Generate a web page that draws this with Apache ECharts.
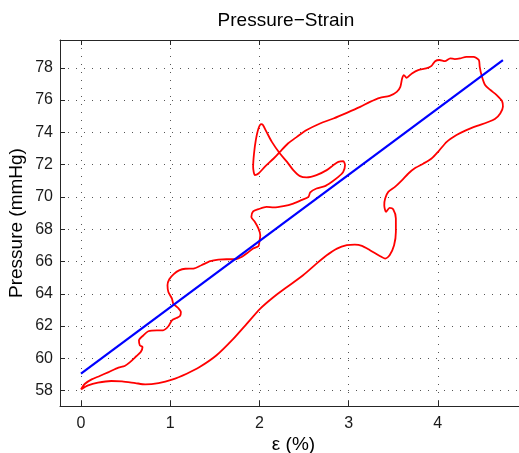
<!DOCTYPE html>
<html>
<head>
<meta charset="utf-8">
<script src="https://cdn.jsdelivr.net/npm/echarts@6/dist/echarts.min.js"></script>
<style>
html,body{margin:0;padding:0;background:#fff;}
#chart{width:519px;height:453px;}
</style>
</head>
<body>
<div id="chart"></div>
<script>
// ---- data ----
const titleText = 'Pressure\u2212Strain';
const xName = '\u03b5 (%)';
const yName = 'Pressure (mmHg)';
const xTicks = [0, 1, 2, 3, 4];
const yTicks = [58, 60, 62, 64, 66, 68, 70, 72, 74, 76, 78];

// measured loop (red), in drawing order
const loopStrain = [
  0.00,0.045,0.12,0.21,0.31,0.42,0.49,0.55,0.62,0.67,0.69,0.66,0.65,0.70,0.755,0.85,0.92,0.98,1.02,1.07,
  1.11,1.12,1.09,1.035,1.02,0.98,0.97,0.99,1.04,1.10,1.17,1.26,1.35,1.45,1.54,1.63,1.73,1.80,1.865,1.93,
  1.99,2.00,2.01,1.99,1.95,1.91,1.93,1.99,2.08,2.16,2.27,2.38,2.47,2.55,2.57,2.64,2.735,2.81,2.885,2.94,
  2.96,2.94,2.885,2.83,2.755,2.64,2.53,2.455,2.38,2.31,2.23,2.14,2.08,2.04,2.02,1.99,1.96,1.94,1.93,1.95,
  1.99,2.06,2.16,2.23,2.32,2.42,2.53,2.68,2.83,2.98,3.13,3.24,3.35,3.46,3.54,3.58,3.60,3.62,3.65,3.71,
  3.78,3.87,3.93,3.97,4.02,4.08,4.14,4.19,4.25,4.32,4.40,4.46,4.47,4.49,4.53,4.59,4.66,4.72,4.73,4.70,
  4.64,4.55,4.44,4.32,4.21,4.10,4.01,3.93,3.84,3.75,3.67,3.60,3.52,3.445,3.41,3.40,3.42,3.46,3.50,3.53,
  3.53,3.51,3.46,3.41,3.35,3.24,3.15,3.07,2.98,2.87,2.755,2.64,2.49,2.31,2.16,2.01,1.86,1.71,1.52,1.33,
  1.185,1.02,0.87,0.72,0.61,0.46,0.34,0.19,0.08,0.00
];
const loopPressure = [
  58.08,58.43,58.70,58.91,59.15,59.43,59.53,59.77,60.13,60.39,60.70,60.81,61.12,61.43,61.68,61.74,61.74,61.99,62.36,62.50,
  62.62,62.87,63.12,63.39,63.70,64.11,64.53,64.90,65.22,65.45,65.55,65.56,65.77,66.02,66.12,66.14,66.14,66.28,66.53,66.80,
  66.95,67.21,67.63,68.04,68.45,68.76,69.10,69.24,69.38,69.35,69.43,69.59,69.80,70.00,70.28,70.52,70.67,70.93,71.24,71.55,
  71.97,72.22,72.17,71.97,71.66,71.35,71.21,71.29,71.66,72.17,72.69,73.41,74.03,74.45,74.51,74.24,73.52,72.69,71.86,71.35,
  71.45,71.86,72.38,72.79,73.31,73.72,74.14,74.55,74.86,75.21,75.58,75.89,76.14,76.26,76.51,76.82,77.34,77.55,77.38,77.65,
  77.86,77.96,78.12,78.41,78.48,78.41,78.58,78.54,78.58,78.68,78.68,78.48,78.06,77.55,76.93,76.62,76.31,75.94,75.58,75.17,
  74.82,74.61,74.40,74.14,73.83,73.41,72.84,72.38,72.07,71.80,71.45,71.04,70.62,70.31,69.90,69.49,69.07,69.32,69.24,68.66,
  67.83,67.01,66.39,66.18,66.34,66.70,66.97,67.05,67.01,66.80,66.39,65.87,65.15,64.42,63.80,63.08,62.15,61.22,60.19,59.46,
  59.05,58.68,58.47,58.39,58.47,58.58,58.60,58.50,58.33,58.08
];

// fitted line (blue)
const fitStrain = [0.0, 4.73];
const fitPressure = [59.05, 78.48];

// ---- build ----
const loopData = loopStrain.map((x, i) => [x, loopPressure[i]]);
const fitData = fitStrain.map((x, i) => [x, fitPressure[i]]);

const FONT = 'Liberation Sans, Arial, Helvetica, sans-serif';
const AX = '#262626';
const gridDots = { show: true, lineStyle: { color: '#555', width: 1, type: [1, 7] } };

const chart = echarts.init(document.getElementById('chart'), null, { renderer: 'canvas' });
chart.setOption({
  animation: false,
  backgroundColor: '#fff',
  title: {
    text: titleText,
    left: 281,
    top: 6,
    textAlign: 'center',
    textStyle: { fontFamily: FONT, fontSize: 19, fontWeight: 'normal', color: '#000' }
  },
  grid: { left: 60, top: 40, width: 467, height: 366, containLabel: false, outerBoundsMode: 'none' },
  xAxis: [{
    type: 'value', position: 'bottom', min: -0.235, max: 5,
    name: xName, nameLocation: 'middle', nameGap: 29, nameMoveOverlap: false,
    nameTextStyle: { fontFamily: FONT, fontSize: 19, color: '#000' },
    axisLine: { show: true, onZero: false, lineStyle: { color: AX, width: 1 } },
    axisTick: { show: true, inside: true, length: 5, customValues: xTicks, lineStyle: { color: AX } },
    axisLabel: { customValues: xTicks, margin: 10, fontFamily: FONT, fontSize: 16, color: '#1a1a1a' },
    splitLine: gridDots
  }, {
    type: 'value', position: 'top', min: -0.235, max: 5,
    axisLine: { show: true, onZero: false, lineStyle: { color: AX, width: 1 } },
    axisTick: { show: true, inside: true, length: 5, customValues: xTicks, lineStyle: { color: AX } },
    axisLabel: { show: false },
    splitLine: { show: false }
  }],
  yAxis: [{
    type: 'value', position: 'left', min: 57.05, max: 79.72,
    name: yName, nameLocation: 'middle', nameGap: 34, nameMoveOverlap: false,
    nameTextStyle: { fontFamily: FONT, fontSize: 19, color: '#000' },
    axisLine: { show: true, onZero: false, lineStyle: { color: AX, width: 1 } },
    axisTick: { show: true, inside: true, length: 5, customValues: yTicks, lineStyle: { color: AX } },
    axisLabel: { customValues: yTicks, margin: 7, fontFamily: FONT, fontSize: 16, color: '#1a1a1a' },
    splitLine: gridDots
  }],
  series: [{
    name: 'Loop', type: 'line', xAxisIndex: 0, yAxisIndex: 0,
    data: loopData, showSymbol: false, smooth: 0.25,
    lineStyle: { color: '#ff0000', width: 1.8 }, z: 3
  }, {
    name: 'Fit', type: 'line', xAxisIndex: 0, yAxisIndex: 0,
    data: fitData, showSymbol: false,
    lineStyle: { color: '#0000ff', width: 2.2 }, z: 4
  }]
});
</script>
</body>
</html>
